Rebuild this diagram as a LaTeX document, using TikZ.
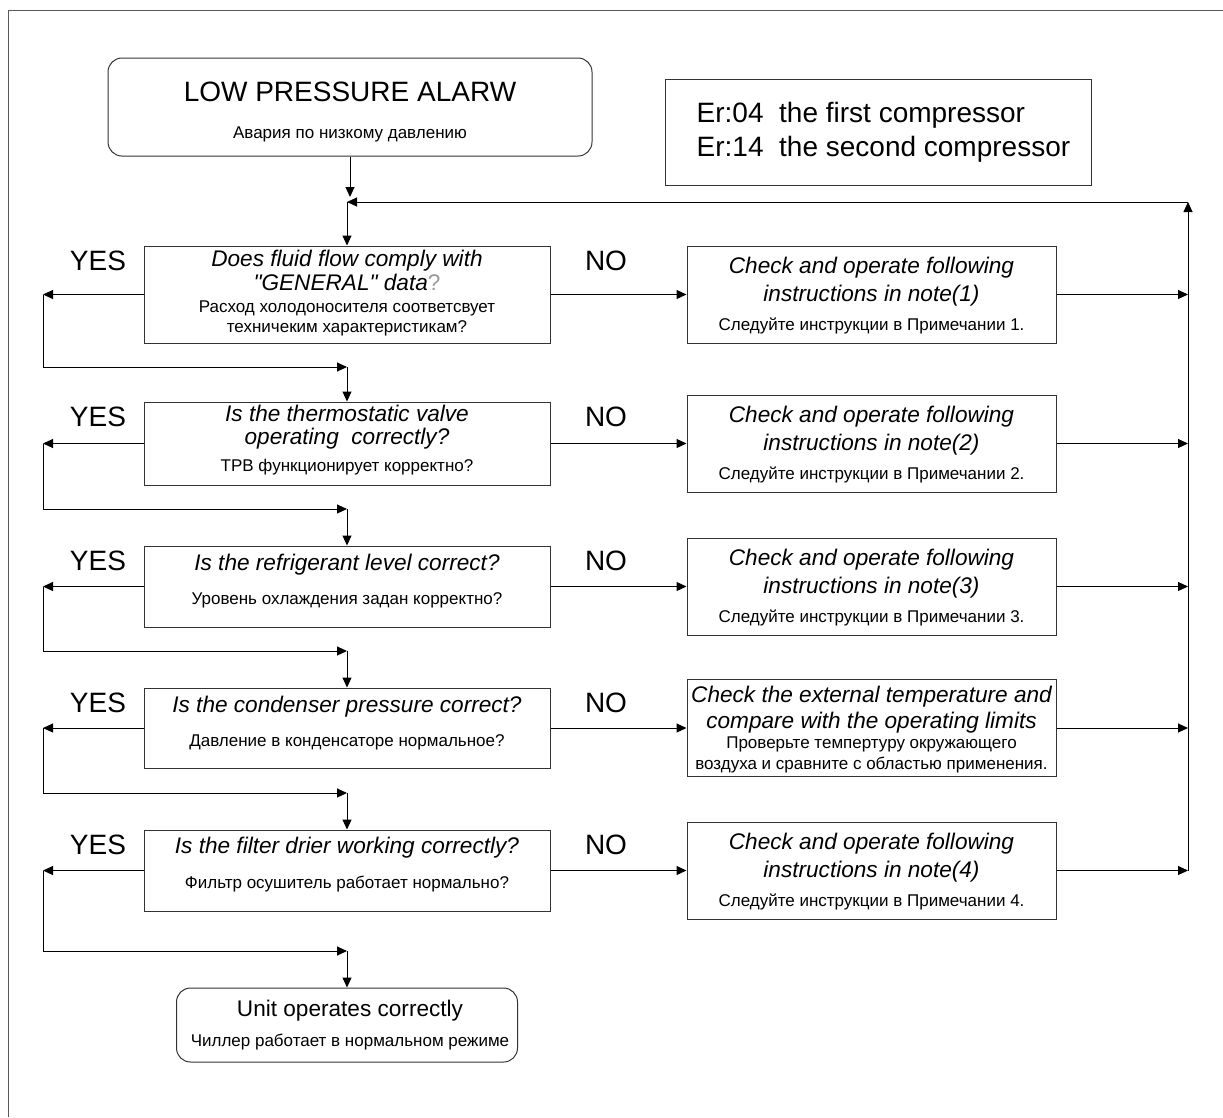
\documentclass[tikz,border=0pt]{standalone}
\usepackage{fontspec}
\setmainfont{Liberation Sans}[Ligatures=TeXOff]
\usetikzlibrary{positioning,arrows.meta}

\newcommand{\fbig}{\fontsize{28}{34}\selectfont}
\newcommand{\fmid}{\fontsize{22.6}{26}\selectfont}
\newcommand{\fru}{\fontsize{17}{20}\selectfont}

\begin{document}
\begin{tikzpicture}
[x=1pt, y=-1pt,
qbox/.style={rectangle, draw=black!80, line width=1pt, minimum width=406pt, inner sep=0pt},
rbox/.style={rectangle, draw=black!80, line width=1pt, minimum width=369pt, minimum height=97pt, inner sep=0pt},
tbox/.style={rectangle, rounded corners=14pt, draw=black!80, line width=1pt, inner sep=0pt},
entext/.style={font=\fmid\itshape, anchor=base, inner sep=0pt},
rutext/.style={font=\fru, anchor=base, inner sep=0pt},
answer/.style={font=\fbig, anchor=base, inner sep=0pt},
flow/.style={line width=1pt, -{Triangle[length=10pt,width=9pt]}},
]
\useasboundingbox (0,0) rectangle (1223,1117);
\draw[line width=1pt, black!65] (1223,10) -- (8,10) -- (8,1117);

% start and error codes
\node[tbox, minimum width=484pt, minimum height=98pt] (start) at (350,107) {};
\node[answer] (startT) at ([yshift=-44pt]start.north) {LOW PRESSURE ALARW};
\node[rutext] (startR) at ([yshift=-81pt]start.north) {Авария по низкому давлению};

\node[rectangle, draw=black!80, line width=1pt, minimum width=426pt, minimum height=106pt] (codes) at (878,132) {};
\node[answer, anchor=base west] (code1) at ([xshift=32pt, yshift=-44pt]codes.north west) {Er:04\ \ the first compressor};
\node[answer, anchor=base west] (code2) at ([xshift=32pt, yshift=-78pt]codes.north west) {Er:14\ \ the second compressor};

% questions
\node[qbox, minimum height=97pt] (q1) at (347,294.5) {};
\node[qbox, minimum height=83pt] (q2) at (347,443.5) {};
\node[qbox, minimum height=81pt] (q3) at (347,586.5) {};
\node[qbox, minimum height=80pt] (q4) at (347,728) {};
\node[qbox, minimum height=81pt] (q5) at (347,870.5) {};

\node[entext] (q1a) at ([yshift=-21pt]q1.north) {Does fluid flow comply with};
\node[entext] (q1b) at ([yshift=-45pt]q1.north) {"GENERAL" data{\upshape\color{black!40}?}};
\node[rutext] (q1c) at ([yshift=-67pt]q1.north) {Расход холодоносителя соответсвует};
\node[rutext] (q1d) at ([yshift=-87pt]q1.north) {техничеким характеристикам?};

\node[entext] (q2a) at ([yshift=-20pt]q2.north) {Is the thermostatic valve};
\node[entext] (q2b) at ([yshift=-43pt]q2.north) {operating\ \ correctly?};
\node[rutext] (q2c) at ([yshift=-70pt]q2.north) {ТРВ функционирует корректно?};

\node[entext] (q3a) at ([yshift=-25pt]q3.north) {Is the refrigerant level correct?};
\node[rutext] (q3c) at ([yshift=-59pt]q3.north) {Уровень охлаждения задан корректно?};

\node[entext] (q4a) at ([yshift=-25pt]q4.north) {Is the condenser pressure correct?};
\node[rutext] (q4c) at ([yshift=-59pt]q4.north) {Давление в конденсаторе нормальное?};

\node[entext] (q5a) at ([yshift=-24pt]q5.north) {Is the filter drier working correctly?};
\node[rutext] (q5c) at ([yshift=-59pt]q5.north) {Фильтр осушитель работает нормально?};

% actions
\node[rbox] (r1) [right=136pt of q1] {};
\node[rbox] (r2) [right=136pt of q2] {};
\node[rbox] (r3) [right=136pt of q3] {};
\node[rbox] (r4) [right=136pt of q4] {};
\node[rbox] (r5) [right=136pt of q5] {};

\foreach \i in {1,2,3,5}{
  \node[entext] (r\i a) at ([yshift=-28pt]r\i.north) {Check and operate following};
  \node[rutext] (r\i c) at ([yshift=-85pt]r\i.north) {Следуйте инструкции в Примечании \ifnum\i=5 4\else\i\fi.};
}
\node[entext] (r1b) at ([yshift=-56pt]r1.north) {instructions in note(1)};
\node[entext] (r2b) at ([yshift=-56pt]r2.north) {instructions in note(2)};
\node[entext] (r3b) at ([yshift=-56pt]r3.north) {instructions in note(3)};
\node[entext] (r5b) at ([yshift=-56pt]r5.north) {instructions in note(4)};
\node[entext] (r4a) at ([yshift=-23pt]r4.north) {Check the external temperature and};
\node[entext] (r4b) at ([yshift=-49pt]r4.north) {compare with the operating limits};
\node[rutext] (r4c) at ([yshift=-69pt]r4.north) {Проверьте темпертуру окружающего};
\node[rutext] (r4d) at ([yshift=-90pt]r4.north) {воздуха и сравните с областью применения.};

% end
\node[tbox, minimum width=341pt, minimum height=74pt] (done) at (347,1025) {};
\node[font=\fmid, anchor=base, inner sep=0pt] (doneT) at ([xshift=3pt, yshift=-29pt]done.north) {Unit operates correctly};
\node[rutext] (doneR) at ([xshift=3pt, yshift=-59pt]done.north) {Чиллер работает в нормальном режиме};

% YES / NO labels
\foreach \i in {1,...,5}{
  \node[answer] (yes\i) at ([xshift=-249pt, yshift=-25pt]q\i.north) {YES};
  \node[answer] (no\i) at ([xshift=259pt, yshift=-25pt]q\i.north) {NO};
}

% connectors
\coordinate (lft) at (43,0);
\coordinate (rgt) at (1188,0);
\coordinate (loop) at (347,202);
\draw[flow] (start.south) -- ([yshift=5pt]start.south |- loop);
\draw[flow] (loop) -- (q1.north);
\foreach \i/\ya/\nxt in {1/367/q2, 2/509/q3, 3/651/q4, 4/793/q5, 5/951/done}{
  \coordinate (join\i) at (347,\ya);
  \draw[flow] (q\i.west) -- (q\i.west -| lft);
  \draw[flow] (q\i.west -| lft) |- (join\i);
  \draw[flow] (join\i) -- (\nxt.north);
  \draw[flow] (q\i.east) -- (r\i.west);
  \draw[flow] (r\i.east) -- (r\i.east -| rgt);
}
\draw[flow] (r5.east -| rgt) -- (loop -| rgt);
\draw[flow] (loop -| rgt) -- (loop);
\end{tikzpicture}
\end{document}
